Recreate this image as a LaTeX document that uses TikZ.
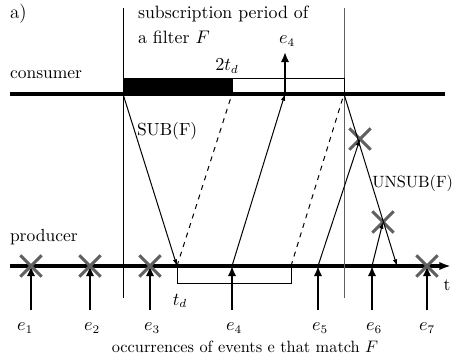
\documentclass[tikz,border=0pt]{standalone}
\usepackage{amsmath}
\usepackage{xcolor}
\usepackage{tikz}
\usetikzlibrary{arrows.meta,shapes.misc}
\definecolor{xgray}{HTML}{606060}

\begin{document}
\begin{tikzpicture}[
  x=0.6pt, y=-0.6pt,
  font=\fontsize{10.5}{12}\selectfont,
  every node/.style={inner sep=1pt},
  axis/.style={line width=2pt},
  ev/.style={-{Latex[length=6pt,width=5pt]},line width=1.4pt},
  msg/.style={-{Latex[length=4pt,width=2.6pt]},semithick},
  lost/.style={dashed,semithick},
  xmark/.style={cross out,draw=xgray,line width=1.8pt,minimum size=11pt,inner sep=0pt}
]
\useasboundingbox (0,0) rectangle (453,360);

% time lines
\coordinate (c0) at (10,94);
\coordinate (c1) at (445,94);
\coordinate (p0) at (10,266);
\coordinate (p1) at (451,266);
\draw[axis] (c0) -- (c1);
\draw[axis,-{Latex[length=7pt,width=5pt]}] (p0) -- (p1);
\node (tlab) at (447,285) {t};
\node[anchor=west] (cons) at (8,75) {consumer};
\node[anchor=west] (prod) at (8,237) {producer};
\node[anchor=west,font=\fontsize{11.5}{12}\selectfont] (alab) at (8,14) {a)};

% subscription period
\coordinate (s0) at (123,8);
\coordinate (s1) at (123,298);
\coordinate (u0) at (344,8);
\coordinate (u1) at (344,298);
\draw[semithick] (s0) -- (s1);
\draw[semithick,xgray] (u0) -- (u1);
\node[anchor=west,font=\fontsize{10.7}{12}\selectfont] (per1) at (136,14) {subscription period of};
\node[anchor=west,font=\fontsize{10.7}{12}\selectfont] (per2) at (136,37) {a filter $F$};

% waiting times
\fill (123,78) rectangle (232,94);
\draw[thin] (232,78) rectangle (344,94);
\node (twotd) at (227,66) {$2t_d$};
\draw[thin] (177,266) -- (177,283) -- (291,283) -- (291,266);
\node (td) at (180,301) {$t_d$};

% messages
\coordinate (cs) at (123,94);
\coordinate (ps) at (177,266);
\coordinate (cb) at (232,94);
\coordinate (pb) at (232,266);
\coordinate (c4) at (285,94);
\coordinate (pe) at (291,266);
\coordinate (cu) at (344,94);
\coordinate (p5) at (318,266);
\coordinate (p6) at (372,266);
\coordinate (pu) at (397,266);
\node[xmark] (x5) at (360,139) {};
\node[xmark] (x6) at (383,222) {};

\draw[msg] (cs) -- (ps);
\node[anchor=west] (sub) at (135,131) {SUB(F)};
\draw[lost] (ps) -- (cb);
\draw[msg] (pb) -- (c4);
\draw[lost] (pe) -- (cu);
\draw[msg] (p5) -- (x5.center);
\draw[msg] (cu) -- (pu);
\node[anchor=west,inner sep=0pt,font=\fontsize{9.8}{12}\selectfont] (unsub) at (372,183) {UNSUB(F)};
\draw[msg] (p6) -- (x6.center);

% delivered event
\coordinate (d4) at (285,52);
\draw[ev] (c4) -- (d4);
\node (de4) at (287,41) {$e_4$};

% events at the producer
\coordinate (b1) at (31,310);  \coordinate (q1) at (31,266);
\coordinate (b2) at (90,310);  \coordinate (q2) at (90,266);
\coordinate (b3) at (150,310); \coordinate (q3) at (150,266);
\coordinate (b4) at (232,310); \coordinate (q4) at (232,266);
\coordinate (b5) at (318,310); \coordinate (q5) at (318,266);
\coordinate (b6) at (372,310); \coordinate (q6) at (372,266);
\coordinate (b7) at (427,310); \coordinate (q7) at (427,266);
\draw[ev] (b1) -- (q1);
\draw[ev] (b2) -- (q2);
\draw[ev] (b3) -- (q3);
\draw[ev] (b4) -- (q4);
\draw[ev] (b5) -- (q5);
\draw[ev] (b6) -- (q6);
\draw[ev] (b7) -- (q7);
\node[xmark] (x1) at (31,266) {};
\node[xmark] (x2) at (90,266) {};
\node[xmark] (x3) at (150,266) {};
\node[xmark] (x7) at (427,266) {};

\node (e1) at (25,328) {$e_1$};
\node (e2) at (92,328) {$e_2$};
\node (e3) at (152,328) {$e_3$};
\node (e4) at (234,328) {$e_4$};
\node (e5) at (320,328) {$e_5$};
\node (e6) at (374,328) {$e_6$};
\node (e7) at (427,328) {$e_7$};
\node[font=\fontsize{9.8}{12}\selectfont] (occ) at (245,347) {occurrences of events e that match $F$};
\end{tikzpicture}
\end{document}
